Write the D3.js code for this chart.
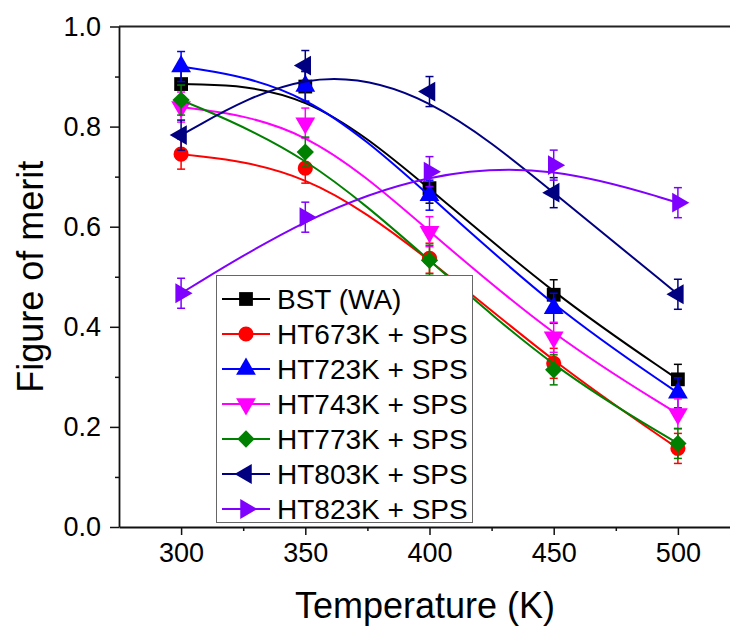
<!DOCTYPE html>
<html>
<head>
<meta charset="utf-8">
<script src="https://cdn.jsdelivr.net/npm/d3@7"></script>
<style>
  body { margin: 0; background: #fff; }
  text { font-family: "Liberation Sans", Arial, sans-serif; }
</style>
</head>
<body>
<svg id="chart" width="730" height="630"></svg>
<script>
// data
const temps = [300, 350, 400, 450, 500]
const seriesNames = ['BST (WA)', 'HT673K + SPS', 'HT723K + SPS', 'HT743K + SPS', 'HT773K + SPS', 'HT803K + SPS', 'HT823K + SPS']
const bstWA   = [0.885, 0.880, 0.677, 0.464, 0.295]
const ht673   = [0.745, 0.717, 0.537, 0.327, 0.157]
const ht723   = [0.920, 0.881, 0.663, 0.437, 0.268]
const ht743   = [0.839, 0.807, 0.590, 0.379, 0.226]
const ht773   = [0.853, 0.749, 0.533, 0.314, 0.167]
const ht803   = [0.783, 0.922, 0.870, 0.668, 0.465]
const ht823   = [0.467, 0.619, 0.710, 0.723, 0.648]
const errBars = [0.03, 0.03, 0.03, 0.03, 0.03]
const xTicks = [300, 350, 400, 450, 500]
const yTicks = [0.0, 0.2, 0.4, 0.6, 0.8, 1.0]

const seriesValues = [bstWA, ht673, ht723, ht743, ht773, ht803, ht823]
const colors = ['#000000', '#ff0000', '#0000ff', '#ff00ff', '#008000', '#000080', '#8000ff']
// symbol type + rotation for each series
const symbols = [
    {type: d3.symbolSquare, rot: 0, size: 190},
    {type: d3.symbolCircle, rot: 0, size: 180},
    {type: d3.symbolTriangle, rot: 0, size: 170},
    {type: d3.symbolTriangle, rot: 180, size: 170},
    {type: d3.symbolSquare, rot: 45, size: 150},
    {type: d3.symbolTriangle, rot: -90, size: 170},
    {type: d3.symbolTriangle, rot: 90, size: 170}
]

const svg = d3.select('#chart')
const x = d3.scaleLinear().domain([275, 525]).range([119, 740])
const y = d3.scaleLinear().domain([0, 1]).range([527, 26.5])

// axes
svg.append('g')
    .attr('transform', 'translate(0,527)')
    .call(d3.axisBottom(x).tickValues(xTicks).tickSize(8).tickSizeOuter(0).tickPadding(8).tickFormat(d3.format('d')))
svg.append('g')
    .attr('transform', 'translate(0,527)')
    .call(d3.axisBottom(x).tickValues([325, 375, 425, 475]).tickSize(4).tickSizeOuter(0).tickFormat(''))
    .select('.domain').remove()

svg.append('g')
    .attr('transform', 'translate(119,0)')
    .call(d3.axisLeft(y).tickValues(yTicks).tickSize(9).tickSizeOuter(0).tickPadding(9).tickFormat(d3.format('.1f')))
svg.append('g')
    .attr('transform', 'translate(119,0)')
    .call(d3.axisLeft(y).tickValues([0.1, 0.3, 0.5, 0.7, 0.9]).tickSize(4).tickSizeOuter(0).tickFormat(''))
    .select('.domain').remove()

svg.selectAll('.domain').attr('stroke', '#111').attr('stroke-width', 1.8)
svg.selectAll('.tick line').attr('stroke', '#111').attr('stroke-width', 1.5)
svg.selectAll('.tick text').attr('font-size', 27).attr('fill', '#000')
    .style('font-family', '"Liberation Sans", Arial, sans-serif')

// top frame line
svg.append('line')
    .attr('x1', 119).attr('x2', 730).attr('y1', y(1)).attr('y2', y(1))
    .attr('stroke', '#222').attr('stroke-width', 2)

// axis titles
svg.append('text')
    .attr('x', 425).attr('y', 618)
    .attr('text-anchor', 'middle')
    .attr('font-size', 36)
    .text('Temperature (K)')
svg.append('text')
    .attr('transform', 'translate(43,' + (y(0.5)) + ') rotate(-90)')
    .attr('text-anchor', 'middle')
    .attr('font-size', 36)
    .text('Figure of merit')

const line = d3.line()
    .x((d, i) => x(temps[i]))
    .y(d => y(d))
    .curve(d3.curveBasis)

function marker(sel, s, color) {
    sel.attr('d', d3.symbol().type(s.type).size(s.size))
        .attr('fill', color)
}

seriesValues.forEach((vals, si) => {
    const g = svg.append('g')
    const color = colors[si]
    g.append('path')
        .datum(vals)
        .attr('d', line)
        .attr('fill', 'none')
        .attr('stroke', color)
        .attr('stroke-width', 2)

    const eb = g.selectAll('.err')
        .data(vals)
        .enter()
        .append('g')
        .attr('stroke', color)
        .attr('stroke-width', 1.5)
    eb.append('line')
        .attr('x1', (d, i) => x(temps[i])).attr('x2', (d, i) => x(temps[i]))
        .attr('y1', (d, i) => y(d + errBars[i])).attr('y2', (d, i) => y(d - errBars[i]))
    eb.append('line')
        .attr('x1', (d, i) => x(temps[i]) - 4).attr('x2', (d, i) => x(temps[i]) + 4)
        .attr('y1', (d, i) => y(d + errBars[i])).attr('y2', (d, i) => y(d + errBars[i]))
    eb.append('line')
        .attr('x1', (d, i) => x(temps[i]) - 4).attr('x2', (d, i) => x(temps[i]) + 4)
        .attr('y1', (d, i) => y(d - errBars[i])).attr('y2', (d, i) => y(d - errBars[i]))

    g.selectAll('.pt')
        .data(vals)
        .enter()
        .append('path')
        .attr('transform', (d, i) => 'translate(' + x(temps[i]) + ',' + y(d) + ') rotate(' + symbols[si].rot + ')')
        .call(marker, symbols[si], color)
})

// legend
const legend = svg.append('g')
legend.append('rect')
    .attr('x', 216.5).attr('y', 275.5)
    .attr('width', 256).attr('height', 247)
    .attr('fill', '#fff')
    .attr('stroke', '#666').attr('stroke-width', 1)

seriesNames.forEach((name, i) => {
    const ly = 299 + i * 35
    legend.append('line')
        .attr('x1', 222).attr('x2', 270).attr('y1', ly).attr('y2', ly)
        .attr('stroke', colors[i]).attr('stroke-width', 2)
    legend.append('path')
        .attr('transform', 'translate(246,' + ly + ') rotate(' + symbols[i].rot + ')')
        .call(marker, symbols[i], colors[i])
    legend.append('text')
        .attr('x', 277).attr('y', ly)
        .attr('dy', '0.36em')
        .attr('font-size', 28)
        .text(name)
})
</script>
</body>
</html>
